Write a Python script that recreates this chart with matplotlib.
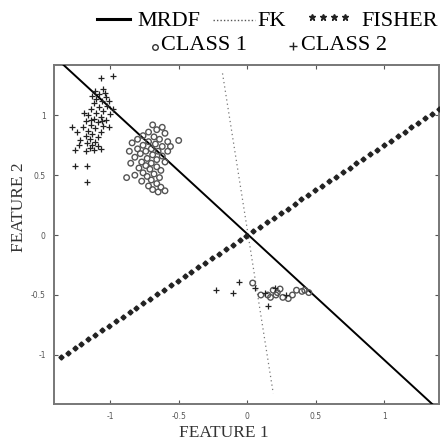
import numpy as np
import matplotlib
matplotlib.use("Agg")
import matplotlib.pyplot as plt
from matplotlib.lines import Line2D

# ---- data ----
# Class 2 (+)
class2_x = [-1.07, -0.98, -1.28, -1.24, -1.22, -1.26, -1.26, -1.17, -1.17, -1.23,
            -1.05, -1.08, -1.03, -1.10, -1.06, -1.12, -1.02, -1.08, -1.14, -1.05,
            -1.10, -1.00, -1.16, -1.07, -1.12, -1.03, -1.18, -1.09, -1.14, -1.05,
            -1.20, -1.11, -1.16, -1.07, -1.13, -1.18, -1.09, -1.15, -1.11, -1.17,
            -1.13, -1.09, -1.15, -1.12, -1.07, -1.18, -1.04, -1.11, -1.01, -0.98,
            -1.13, -1.06, -1.01, -1.19, -1.14,
            -0.23, -0.10, -0.06, 0.15, 0.06, 0.13, 0.20, 0.28]
class2_y = [1.31, 1.33, 0.90, 0.86, 0.79, 0.71, 0.58, 0.58, 0.44, 0.75,
            1.22, 1.18, 1.15, 1.14, 1.12, 1.10, 1.08, 1.07, 1.05, 1.04,
            1.02, 1.01, 1.00, 0.99, 0.97, 0.96, 0.95, 0.94, 0.92, 0.91,
            0.90, 0.89, 0.87, 0.86, 0.84, 0.83, 0.82, 0.80, 0.78, 0.77,
            0.75, 0.74, 0.73, 0.71, 0.72, 0.70, 1.19, 1.20, 1.12, 1.05,
            1.16, 0.95, 0.90, 1.02, 0.96,
            -0.46, -0.48, -0.39, -0.59, -0.44, -0.48, -0.44, -0.50]

# Class 1 (o)
class1_x = [-0.69, -0.62, -0.66, -0.72, -0.60, -0.76, -0.68, -0.64, -0.80, -0.72,
            -0.58, -0.84, -0.67, -0.76, -0.62, -0.70, -0.80, -0.74, -0.65, -0.58,
            -0.78, -0.69, -0.62, -0.82, -0.73, -0.66, -0.77, -0.70, -0.60, -0.85,
            -0.74, -0.66, -0.79, -0.71, -0.63, -0.76, -0.68, -0.82, -0.73, -0.64,
            -0.88, -0.70, -0.77, -0.66, -0.72, -0.63, -0.69, -0.65, -0.60, -0.50,
            -0.86, -0.56,
            0.04, 0.10, 0.17, 0.19, 0.22, 0.24, 0.26, 0.30, 0.33, 0.36,
            0.40, 0.42, 0.45, 0.21, 0.15]
class1_y = [0.92, 0.90, 0.88, 0.86, 0.85, 0.83, 0.82, 0.80, 0.80, 0.78,
            0.78, 0.77, 0.76, 0.75, 0.74, 0.72, 0.72, 0.70, 0.70, 0.70,
            0.68, 0.67, 0.66, 0.65, 0.64, 0.63, 0.61, 0.60, 0.61, 0.60,
            0.58, 0.57, 0.56, 0.55, 0.54, 0.52, 0.51, 0.50, 0.49, 0.48,
            0.48, 0.46, 0.45, 0.43, 0.41, 0.40, 0.38, 0.36, 0.37, 0.79,
            0.70, 0.74,
            -0.40, -0.50, -0.52, -0.46, -0.48, -0.45, -0.52, -0.53, -0.50, -0.46,
            -0.47, -0.46, -0.48, -0.50, -0.50]

# Discriminant lines (end points)
mrdf_x = [-1.34, 1.35]
mrdf_y = [1.42, -1.41]
fk_x = [-0.18, 0.19]
fk_y = [1.35, -1.32]
fisher_x0, fisher_x1 = -1.36, 1.40
fisher_slope = 0.75
fisher_n = 56

ticks = [-1, -0.5, 0, 0.5, 1]
tick_labels = ["-1", "-0.5", "0", "0.5", "1"]

# ---- figure ----
fig = plt.figure(figsize=(4.46, 4.48), dpi=100)
ax = fig.add_axes([54/446, 44/448, 385/446, 339/448])

ax.plot(mrdf_x, mrdf_y, color="black", lw=1.4, zorder=3)
ax.plot(fk_x, fk_y, color="#777777", lw=0.9, ls=(0, (1, 2.5)), zorder=2)
fx = np.linspace(fisher_x0, fisher_x1, fisher_n)
ax.plot(fx, fisher_slope * fx, ls="none", marker="D", ms=2.6,
        color="#222222", mec="#222222", zorder=3)

ax.scatter(class1_x, class1_y, marker="o", s=16, facecolors="none",
           edgecolors="#555555", linewidths=1.0, zorder=4)
ax.scatter(class2_x, class2_y, marker="+", s=22, color="#222222",
           linewidths=0.9, zorder=4)

ax.set_xlim(-1.41, 1.40)
ax.set_ylim(-1.41, 1.42)
ax.set_xticks(ticks)
ax.set_yticks(ticks)
ax.set_xticklabels(tick_labels)
ax.set_yticklabels(tick_labels)
ax.tick_params(direction="in", length=3, width=0.8, labelsize=5.5,
               colors="#555555", top=True, right=True, pad=6)
for s in ax.spines.values():
    s.set_color("#777777")
    s.set_linewidth(1.4)

serif = ["Liberation Serif", "DejaVu Serif"]
ax.set_xlabel("FEATURE 1", family=serif, fontsize=12.5, color="#333333")
ax.xaxis.set_label_coords(0.44, -0.062)
ax.set_ylabel("FEATURE 2", family=serif, fontsize=12.5, color="#333333")
ax.yaxis.set_label_coords(-0.07, 0.58)

# ---- legend (manual) ----
W, H = 446.0, 448.0
def fx_(px):
    return px / W
def fy_(py):
    return 1 - py / H

r1, r2 = 21, 46
fig.add_artist(Line2D([fx_(97), fx_(130)], [fy_(19), fy_(19)], color="black", lw=2.2))
fig.text(fx_(137), fy_(r1), "MRDF", family=serif, fontsize=16, va="center", ha="left")
fig.add_artist(Line2D([fx_(213), fx_(255)], [fy_(20), fy_(20)], color="#555555",
                      lw=1.0, ls=(0, (1, 1.5))))
fig.text(fx_(257), fy_(r1), "FK", family=serif, fontsize=16, va="center", ha="left")
fig.add_artist(Line2D([fx_(312), fx_(323), fx_(334), fx_(345)], [fy_(17)] * 4,
                      ls="none", marker="*", ms=5, color="#222222"))
fig.text(fx_(361), fy_(r1), "FISHER", family=serif, fontsize=16, va="center", ha="left")
fig.add_artist(Line2D([fx_(155)], [fy_(47)], ls="none", marker="o", ms=4,
                      mfc="none", mec="#333333", mew=1.0))
fig.text(fx_(161), fy_(r2), "CLASS 1", family=serif, fontsize=16, va="center", ha="left")
fig.add_artist(Line2D([fx_(293)], [fy_(46)], ls="none", marker="+", ms=6,
                      color="#222222", mew=1.0))
fig.text(fx_(301), fy_(r2), "CLASS 2", family=serif, fontsize=16, va="center", ha="left")

fig.savefig("out.png", dpi=100)
